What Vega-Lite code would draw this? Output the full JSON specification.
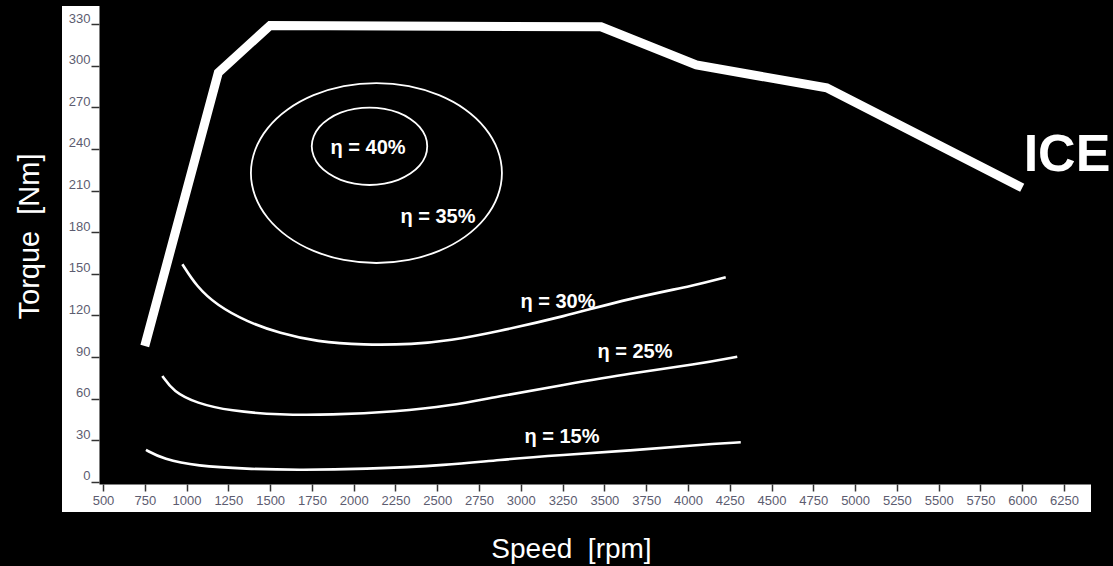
{
  "$schema": "https://vega.github.io/schema/vega-lite/v6.json",
  "width": 1029,
  "height": 506,
  "autosize": "none",
  "padding": {"left": 62, "top": 6, "right": 22, "bottom": 54},
  "background": "#000000",
  "view": {"stroke": null, "fill": "#000000"},
  "config": {
    "axis": {"labelFont": "Liberation Sans", "titleFont": "Liberation Sans"},
    "text": {"font": "Liberation Sans"}
  },
  "datasets": {
    "frame": [{"part": "frame"}],
    "ice": [
      {"rpm": 750, "torque": 98},
      {"rpm": 1190, "torque": 295},
      {"rpm": 1500, "torque": 329},
      {"rpm": 3480, "torque": 328},
      {"rpm": 4050, "torque": 300.5},
      {"rpm": 4830, "torque": 284},
      {"rpm": 6000, "torque": 212}
    ],
    "eff": [
      {"eta": "30", "rpm": 975, "torque": 156.9},
      {"eta": "30", "rpm": 1061, "torque": 140.7},
      {"eta": "30", "rpm": 1180, "torque": 127.5},
      {"eta": "30", "rpm": 1360, "torque": 115.5},
      {"eta": "30", "rpm": 1559, "torque": 107.1},
      {"eta": "30", "rpm": 1779, "torque": 101.1},
      {"eta": "30", "rpm": 2057, "torque": 98.7},
      {"eta": "30", "rpm": 2357, "torque": 99.2},
      {"eta": "30", "rpm": 2576, "torque": 101.8},
      {"eta": "30", "rpm": 2856, "torque": 108.3},
      {"eta": "30", "rpm": 3254, "torque": 119.1},
      {"eta": "30", "rpm": 3653, "torque": 132.4},
      {"eta": "30", "rpm": 4052, "torque": 141.9},
      {"eta": "30", "rpm": 4226, "torque": 147.5},
      {"eta": "25", "rpm": 855, "torque": 76.4},
      {"eta": "25", "rpm": 921, "torque": 65.1},
      {"eta": "25", "rpm": 1061, "torque": 56.7},
      {"eta": "25", "rpm": 1260, "torque": 51.2},
      {"eta": "25", "rpm": 1559, "torque": 48.3},
      {"eta": "25", "rpm": 1858, "torque": 48.3},
      {"eta": "25", "rpm": 2257, "torque": 50.7},
      {"eta": "25", "rpm": 2576, "torque": 54.8},
      {"eta": "25", "rpm": 2856, "torque": 61.5},
      {"eta": "25", "rpm": 3254, "torque": 69.9},
      {"eta": "25", "rpm": 3653, "torque": 78.3},
      {"eta": "25", "rpm": 4052, "torque": 84.8},
      {"eta": "25", "rpm": 4295, "torque": 90.3},
      {"eta": "15", "rpm": 757, "torque": 23.1},
      {"eta": "15", "rpm": 861, "torque": 16.4},
      {"eta": "15", "rpm": 1061, "torque": 11.5},
      {"eta": "15", "rpm": 1360, "torque": 9.4},
      {"eta": "15", "rpm": 1659, "torque": 8.6},
      {"eta": "15", "rpm": 2057, "torque": 9.2},
      {"eta": "15", "rpm": 2576, "torque": 12.2},
      {"eta": "15", "rpm": 2856, "torque": 15.9},
      {"eta": "15", "rpm": 3254, "torque": 19.5},
      {"eta": "15", "rpm": 3653, "torque": 22.6},
      {"eta": "15", "rpm": 4052, "torque": 26.7},
      {"eta": "15", "rpm": 4316, "torque": 28.6}
    ],
    "ellipse": [
      {"e": "35", "i": 0, "rpm": 2887, "torque": 222.6},
      {"e": "35", "i": 1, "rpm": 2861, "torque": 239.4},
      {"e": "35", "i": 2, "rpm": 2786, "torque": 255.0},
      {"e": "35", "i": 3, "rpm": 2667, "torque": 268.4},
      {"e": "35", "i": 4, "rpm": 2511, "torque": 278.7},
      {"e": "35", "i": 5, "rpm": 2330, "torque": 285.2},
      {"e": "35", "i": 6, "rpm": 2136, "torque": 287.4},
      {"e": "35", "i": 7, "rpm": 1941, "torque": 285.2},
      {"e": "35", "i": 8, "rpm": 1760, "torque": 278.7},
      {"e": "35", "i": 9, "rpm": 1605, "torque": 268.4},
      {"e": "35", "i": 10, "rpm": 1486, "torque": 255.0},
      {"e": "35", "i": 11, "rpm": 1411, "torque": 239.4},
      {"e": "35", "i": 12, "rpm": 1385, "torque": 222.6},
      {"e": "35", "i": 13, "rpm": 1411, "torque": 205.8},
      {"e": "35", "i": 14, "rpm": 1486, "torque": 190.2},
      {"e": "35", "i": 15, "rpm": 1605, "torque": 176.8},
      {"e": "35", "i": 16, "rpm": 1760, "torque": 166.5},
      {"e": "35", "i": 17, "rpm": 1941, "torque": 160.0},
      {"e": "35", "i": 18, "rpm": 2136, "torque": 157.8},
      {"e": "35", "i": 19, "rpm": 2330, "torque": 160.0},
      {"e": "35", "i": 20, "rpm": 2511, "torque": 166.5},
      {"e": "35", "i": 21, "rpm": 2667, "torque": 176.8},
      {"e": "35", "i": 22, "rpm": 2786, "torque": 190.2},
      {"e": "35", "i": 23, "rpm": 2861, "torque": 205.8},
      {"e": "40", "i": 0, "rpm": 2440, "torque": 241.9},
      {"e": "40", "i": 1, "rpm": 2429, "torque": 249.1},
      {"e": "40", "i": 2, "rpm": 2394, "torque": 255.9},
      {"e": "40", "i": 3, "rpm": 2339, "torque": 261.6},
      {"e": "40", "i": 4, "rpm": 2267, "torque": 266.1},
      {"e": "40", "i": 5, "rpm": 2184, "torque": 268.8},
      {"e": "40", "i": 6, "rpm": 2095, "torque": 269.8},
      {"e": "40", "i": 7, "rpm": 2005, "torque": 268.8},
      {"e": "40", "i": 8, "rpm": 1922, "torque": 266.1},
      {"e": "40", "i": 9, "rpm": 1850, "torque": 261.6},
      {"e": "40", "i": 10, "rpm": 1795, "torque": 255.9},
      {"e": "40", "i": 11, "rpm": 1761, "torque": 249.1},
      {"e": "40", "i": 12, "rpm": 1749, "torque": 241.9},
      {"e": "40", "i": 13, "rpm": 1761, "torque": 234.7},
      {"e": "40", "i": 14, "rpm": 1795, "torque": 227.9},
      {"e": "40", "i": 15, "rpm": 1850, "torque": 222.2},
      {"e": "40", "i": 16, "rpm": 1922, "torque": 217.7},
      {"e": "40", "i": 17, "rpm": 2005, "torque": 215.0},
      {"e": "40", "i": 18, "rpm": 2095, "torque": 214.0},
      {"e": "40", "i": 19, "rpm": 2184, "torque": 215.0},
      {"e": "40", "i": 20, "rpm": 2267, "torque": 217.7},
      {"e": "40", "i": 21, "rpm": 2339, "torque": 222.2},
      {"e": "40", "i": 22, "rpm": 2394, "torque": 227.9},
      {"e": "40", "i": 23, "rpm": 2429, "torque": 234.7}
    ],
    "labels": [
      {"label": "η = 40%", "rpm": 2086, "torque": 240.7},
      {"label": "η = 35%", "rpm": 2504, "torque": 191.2},
      {"label": "η = 30%", "rpm": 3222, "torque": 129.9},
      {"label": "η = 25%", "rpm": 3683, "torque": 93.9},
      {"label": "η = 15%", "rpm": 3246, "torque": 32.6}
    ],
    "ice_label": [
      {"label": "ICE", "rpm": 6268, "torque": 235.6}
    ]
  },
  "layer": [
    {
      "data": {"name": "frame"},
      "mark": {"type": "rect", "color": "#ffffff"},
      "encoding": {
        "x": {
          "datum": 254.7,
          "type": "quantitative",
          "scale": {"domain": [254.7, 6411.6], "nice": false, "zero": false},
          "axis": {
            "values": [500, 750, 1000, 1250, 1500, 1750, 2000, 2250, 2500, 2750, 3000, 3250, 3500, 3750, 4000, 4250, 4500, 4750, 5000, 5250, 5500, 5750, 6000, 6250],
            "format": "d",
            "zindex": 2,
            "offset": -28,
            "domain": false,
            "grid": false,
            "tickColor": "#333333",
            "tickSize": 7,
            "tickWidth": 1.5,
            "labelColor": "#5c5c70",
            "labelFontSize": 13,
            "labelPadding": 3,
            "labelOverlap": false,
            "labelFlush": false,
            "title": "Speed \u00a0[rpm]",
            "titleColor": "#ffffff",
            "titleFontSize": 28,
            "titleFontWeight": "normal",
            "titleX": 509,
            "titleY": 73,
            "titleAlign": "center",
            "titleBaseline": "alphabetic"
          }
        },
        "x2": {"datum": 479},
        "y": {
          "datum": -21.62,
          "type": "quantitative",
          "scale": {"domain": [-21.62, 342.97], "nice": false, "zero": false},
          "axis": {
            "values": [0, 30, 60, 90, 120, 150, 180, 210, 240, 270, 300, 330],
            "format": "d",
            "zindex": 2,
            "offset": -37,
            "domain": false,
            "grid": false,
            "tickColor": "#333333",
            "tickSize": 8,
            "tickWidth": 1.5,
            "labelColor": "#5c5c70",
            "labelFontSize": 13,
            "labelPadding": 1,
            "labelBaseline": "alphabetic",
            "labelOffset": -2,
            "labelOverlap": false,
            "labelFlush": false,
            "title": "Torque \u00a0[Nm]",
            "titleColor": "#ffffff",
            "titleFontSize": 29,
            "titleFontWeight": "normal",
            "titleAngle": 270,
            "titleX": -70,
            "titleY": 230,
            "titleAlign": "center",
            "titleBaseline": "middle"
          }
        },
        "y2": {"datum": 342.97}
      }
    },
    {
      "data": {"name": "frame"},
      "mark": {"type": "rect", "color": "#ffffff"},
      "encoding": {
        "x": {"datum": 254.7, "type": "quantitative"},
        "x2": {"datum": 6411.6},
        "y": {"datum": -21.62, "type": "quantitative"},
        "y2": {"datum": -1.8}
      }
    },
    {
      "data": {"name": "eff"},
      "mark": {"type": "line", "color": "#ffffff", "strokeWidth": 2.6, "interpolate": "basis"},
      "encoding": {
        "x": {"field": "rpm", "type": "quantitative"},
        "y": {"field": "torque", "type": "quantitative"},
        "detail": {"field": "eta"}
      }
    },
    {
      "data": {"name": "ellipse"},
      "mark": {"type": "line", "color": "#ffffff", "strokeWidth": 1.8, "interpolate": "cardinal-closed"},
      "encoding": {
        "x": {"field": "rpm", "type": "quantitative"},
        "y": {"field": "torque", "type": "quantitative"},
        "detail": {"field": "e"},
        "order": {"field": "i", "type": "quantitative"}
      }
    },
    {
      "data": {"name": "ice"},
      "mark": {"type": "line", "color": "#ffffff", "strokeWidth": 9, "strokeJoin": "miter", "strokeCap": "butt"},
      "encoding": {
        "x": {"field": "rpm", "type": "quantitative"},
        "y": {"field": "torque", "type": "quantitative"}
      }
    },
    {
      "data": {"name": "labels"},
      "mark": {"type": "text", "color": "#ffffff", "fontSize": 20, "fontWeight": "bold", "align": "center", "baseline": "middle"},
      "encoding": {
        "x": {"field": "rpm", "type": "quantitative"},
        "y": {"field": "torque", "type": "quantitative"},
        "text": {"field": "label"}
      }
    },
    {
      "data": {"name": "ice_label"},
      "mark": {"type": "text", "color": "#ffffff", "fontSize": 52, "fontWeight": "bold", "align": "center", "baseline": "middle"},
      "encoding": {
        "x": {"field": "rpm", "type": "quantitative"},
        "y": {"field": "torque", "type": "quantitative"},
        "text": {"field": "label"}
      }
    }
  ]
}
